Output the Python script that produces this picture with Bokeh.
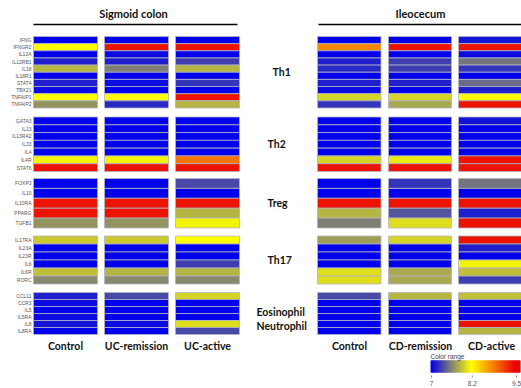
from bokeh.plotting import figure
from bokeh.models import Range1d, ColumnDataSource, LinearColorMapper
from bokeh.transform import transform
from bokeh.core.properties import value
from bokeh.embed import file_html
from bokeh.resources import INLINE

# ---- data -------------------------------------------------------------
groups = ["Th1", "Th2", "Treg", "Th17", "Eosinophil\nNeutrophil"]

genes_th1 = ["IFNG", "IFNGR2", "IL12A", "IL12RB1", "IL18", "IL18R1", "STAT4", "TBX21", "TNFAIP1", "TNFAIP2"]
genes_th2 = ["GATA3", "IL13", "IL13RA2", "IL33", "IL4", "IL4R", "STAT6"]
genes_treg = ["FOXP3", "IL10", "IL10RA", "PPARG", "TGFB1"]
genes_th17 = ["IL17RA", "IL23A", "IL23R", "IL6", "IL6R", "RORC"]
genes_eos = ["CCL11", "CCR3", "IL5", "IL5RA", "IL8", "IL8RA"]

uc_conditions = ["Control", "UC-remission", "UC-active"]
cd_conditions = ["Control", "CD-remission", "CD-active"]

# expression per gene: [Control, remission, active]
sig_th1 = [[7.0, 7.0, 7.0], [8.2, 9.4, 9.4], [7.0, 7.05, 7.0], [7.15, 7.15, 7.3], [7.85, 7.6, 7.85],
           [7.0, 7.0, 7.0], [7.15, 7.05, 7.25], [7.05, 7.0, 7.0], [8.2, 8.2, 9.4], [7.7, 7.2, 7.85]]
sig_th2 = [[7.0, 7.0, 7.0], [7.0, 7.0, 7.0], [7.0, 7.0, 7.0], [7.0, 7.0, 7.0], [7.0, 7.0, 7.0],
           [8.15, 8.15, 8.9], [9.4, 9.4, 9.4]]
sig_treg = [[7.0, 7.0, 7.35], [7.0, 7.0, 7.0], [9.4, 9.4, 9.4], [9.4, 9.4, 7.85], [7.7, 7.7, 8.15]]
sig_th17 = [[7.95, 7.95, 8.2], [7.0, 7.0, 7.0], [7.0, 7.0, 7.0], [7.0, 7.0, 7.3], [7.9, 7.85, 7.85],
            [7.65, 7.65, 7.65]]
sig_eos = [[7.15, 7.35, 8.0], [7.05, 7.0, 7.0], [7.0, 7.0, 7.0], [7.05, 7.0, 7.0], [7.1, 7.05, 8.05],
           [7.0, 7.0, 7.35]]

ile_th1 = [[7.0, 7.0, 7.1], [8.8, 9.4, 9.4], [7.0, 7.0, 7.05], [7.15, 7.3, 7.55], [7.2, 7.3, 7.25],
           [7.0, 7.0, 7.0], [7.15, 7.15, 7.5], [7.05, 7.0, 7.15], [8.0, 8.0, 8.2], [7.25, 7.8, 9.4]]
ile_th2 = [[7.0, 7.0, 7.1], [7.0, 7.0, 7.0], [7.0, 7.0, 7.0], [7.0, 7.0, 7.0], [7.0, 7.0, 7.0],
           [8.0, 8.1, 9.4], [9.4, 9.4, 9.4]]
ile_treg = [[7.0, 7.25, 7.55], [7.0, 7.0, 7.0], [9.4, 9.4, 9.4], [7.85, 7.4, 7.15], [7.6, 8.05, 9.4]]
ile_th17 = [[7.75, 8.0, 9.4], [7.0, 7.0, 7.15], [7.0, 7.0, 7.0], [7.0, 7.0, 8.15], [8.05, 7.8, 7.9],
            [8.05, 7.8, 7.3]]
ile_eos = [[7.35, 7.85, 7.9], [7.0, 7.0, 7.0], [7.0, 7.0, 7.0], [7.0, 7.0, 7.0], [7.0, 7.0, 9.4],
           [7.0, 7.0, 7.85]]

scale_ticks = [7, 8.2, 9.5]
scale_tick_labels = ["7", "8.2", "9.5"]

# ---- layout (screen pixels) ------------------------------------------
W, H = 521, 388
block_spans = [(36, 107.5), (116.5, 171), (178, 227.5), (235.5, 283.5), (292, 334)]
sig_cols = [(33, 97), (104, 168), (175, 239)]
ile_cols = [(317, 380.5), (388, 451), (458, 521)]

gene_blocks = [genes_th1, genes_th2, genes_treg, genes_th17, genes_eos]
sig_blocks = [sig_th1, sig_th2, sig_treg, sig_th17, sig_eos]
ile_blocks = [ile_th1, ile_th2, ile_treg, ile_th17, ile_eos]

# blue -> yellow (8.2) -> red colour scale
LOW, MID, HIGH = 7.0, 8.2, 9.5
palette = []
for i in range(256):
    v = LOW + (HIGH - LOW) * i / 255
    if v <= MID:
        t = (v - LOW) / (MID - LOW)
        r, g, b = 255 * t, 255 * t, 235 * (1 - t)
    else:
        s = (v - MID) / (HIGH - MID)
        r, g, b = 255 - 20 * s, 255 * (1 - s), 0
    palette.append("#%02x%02x%02x" % (int(r), int(g), int(b)))
mapper = LinearColorMapper(palette=palette, low=LOW, high=HIGH)

p = figure(width=W, height=H, x_range=Range1d(0, W), y_range=Range1d(H, 0),
           output_backend="svg", toolbar_location=None, min_border=0)
p.axis.visible = False
p.grid.visible = False
p.outline_line_color = None
p.background_fill_color = "white"

cx, cy, cw, ch, cv = [], [], [], [], []
lab_x, lab_y, lab_t = [], [], []
for genes, sblk, iblk, (top, bot) in zip(gene_blocks, sig_blocks, ile_blocks, block_spans):
    rh = (bot - top) / len(genes)
    for r, g in enumerate(genes):
        yc = top + rh * (r + 0.5)
        lab_x.append(31)
        lab_y.append(yc)
        lab_t.append(g)
        for cols, blk in ((sig_cols, sblk), (ile_cols, iblk)):
            for (x0, x1), val in zip(cols, blk[r]):
                cx.append((x0 + x1) / 2)
                cy.append(yc)
                cw.append(x1 - x0)
                ch.append(rh)
                cv.append(val)

src = ColumnDataSource(dict(x=cx, y=cy, w=cw, h=ch, v=cv))
p.rect(x="x", y="y", width="w", height="h", source=src,
       fill_color=transform("v", mapper), line_color="#b4b4c4", line_width=0.8)

p.text(x=lab_x, y=lab_y, text=lab_t, text_align="right", text_baseline="middle",
       text_font=value("Liberation Sans"), text_font_size="5px", text_color="#555555")

# section titles with rules beneath
bold = dict(text_font=value("Lato"), text_font_style="bold", text_color="#111111",
            text_baseline="middle")
p.text(x=[133, 420], y=[13, 13], text=["Sigmoid colon", "Ileocecum"],
       text_align="center", text_font_size="11px", **bold)
p.segment(x0=[33, 318], y0=[24, 24], x1=[237, 521], y1=[24, 24], line_color="black", line_width=1.6)

# condition labels under the columns
p.text(x=[(a + b) / 2 for a, b in sig_cols], y=[345] * 3, text=uc_conditions,
       text_align="center", text_font_size="10.5px", **bold)
p.text(x=[349, 420, 491], y=[345] * 3, text=cd_conditions,
       text_align="center", text_font_size="10.5px", **bold)

# cell-type group labels between the two panels
grp_x = [272, 267, 267, 267]
grp_y = [(t + b) / 2 for t, b in block_spans[:4]]
p.text(x=grp_x, y=grp_y, text=groups[:4], text_align="left", text_font_size="10.5px", **bold)
p.text(x=[256, 256], y=[311, 325], text=groups[4].split("\n"), text_align="left",
       text_font_size="10.5px", **bold)

# colour-range key
bar_x0, bar_x1 = 431, 516
def key_x(v):
    return bar_x0 + (v - LOW) / (HIGH - LOW) * (bar_x1 - bar_x0)

n = 120
step = (HIGH + 0.12 - LOW) / n
kv = [LOW + step * (i + 0.5) for i in range(n)]
ksrc = ColumnDataSource(dict(left=[key_x(v - step / 2) - 1 for v in kv],
                             right=[min(key_x(v + step / 2), W) for v in kv], v=kv))
p.quad(left="left", right="right", top=360, bottom=372, source=ksrc,
       fill_color=transform("v", mapper), line_color=None)
p.text(x=[430], y=[356], text=["Color range"], text_align="left", text_baseline="middle",
       text_font=value("Liberation Sans"), text_font_size="6.5px", text_color="#444444")
p.segment(x0=[key_x(t) for t in scale_ticks], y0=[375] * 3,
          x1=[key_x(t) for t in scale_ticks], y1=[377] * 3, line_color="#666666", line_width=0.8)
p.text(x=[key_x(t) for t in scale_ticks], y=[383] * 3, text=scale_tick_labels,
       text_align="center", text_baseline="middle",
       text_font=value("Liberation Sans"), text_font_size="6.5px", text_color="#555555")

open("out.html", "w").write(file_html(p, INLINE))
